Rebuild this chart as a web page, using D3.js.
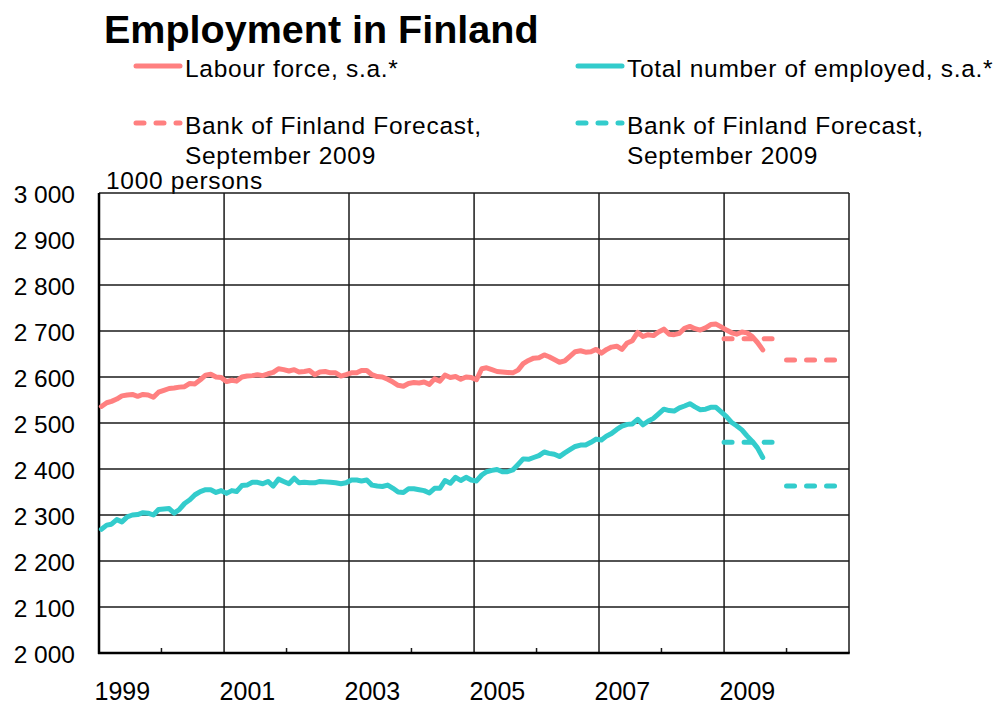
<!DOCTYPE html>
<html>
<head>
<meta charset="utf-8">
<script src="https://cdn.jsdelivr.net/npm/d3@7"></script>
<style>
  html, body { margin: 0; padding: 0; background: #fff; }
  svg { display: block; font-family: "Liberation Sans", Arial, sans-serif; }
</style>
</head>
<body>
<svg id="chart" width="996" height="706"></svg>
<script>
// Monthly series, January 1999 – August 2009 (1000 persons, seasonally adjusted)
const startYear = 1999;
const labourForce = [
  2536, 2544, 2547, 2552, 2559, 2561, 2562, 2558, 2562, 2561, 2556, 2567,
  2571, 2575, 2576, 2578, 2579, 2586, 2585, 2594, 2604, 2606, 2600, 2599,
  2590, 2593, 2591, 2600, 2602, 2603, 2605, 2603, 2607, 2610, 2618, 2616,
  2613, 2616, 2611, 2612, 2614, 2605, 2611, 2612, 2609, 2609, 2602, 2605,
  2609, 2609, 2614, 2614, 2605, 2601, 2600, 2595, 2589, 2582, 2580, 2586,
  2588, 2587, 2589, 2584, 2596, 2591, 2604, 2599, 2601, 2595, 2600, 2599,
  2594, 2618, 2620, 2616, 2612, 2611, 2610, 2609, 2615, 2629, 2636, 2641,
  2642, 2648, 2644, 2638, 2632, 2635, 2645, 2655, 2657, 2654, 2655, 2660,
  2652, 2660, 2665, 2667, 2660, 2674, 2679, 2697, 2688, 2692, 2690, 2698,
  2704, 2693, 2692, 2695, 2706, 2710, 2705, 2702, 2707, 2714, 2715, 2709,
  2702, 2696, 2693, 2698, 2696, 2688, 2675, 2659
];
const employed = [
  2269, 2278, 2280, 2290, 2285, 2296, 2300, 2301, 2305, 2304, 2300, 2312,
  2313, 2314, 2304, 2312, 2325, 2333, 2344, 2351, 2355, 2355, 2349, 2353,
  2347, 2353, 2351, 2364, 2365, 2371, 2371, 2368, 2373, 2363, 2378, 2373,
  2368, 2380, 2370, 2371, 2370, 2370, 2373, 2372, 2371, 2370, 2368, 2370,
  2376, 2376, 2374, 2376, 2365, 2363, 2362, 2365, 2358, 2350, 2349, 2357,
  2357, 2355, 2353, 2348, 2358, 2358, 2375, 2369, 2382, 2375, 2382, 2376,
  2374, 2387, 2394, 2397, 2399, 2394, 2394, 2398, 2410, 2422, 2421, 2425,
  2429, 2437, 2434, 2432, 2427, 2435, 2442, 2449, 2452, 2452, 2458, 2465,
  2463, 2472, 2477, 2486, 2493, 2497, 2498, 2508, 2496, 2504, 2510, 2520,
  2530, 2527, 2526, 2533, 2537, 2542, 2535, 2529, 2530, 2534, 2534, 2524,
  2514, 2501, 2494, 2485, 2472, 2460, 2446, 2425
];

// Bank of Finland forecast, September 2009 (annual levels)
const forecastYears = [2009, 2010];
const labourForecast = [2683, 2637];
const employedForecast = [2458, 2363];

// Axis ticks
const yTicks = [2000, 2100, 2200, 2300, 2400, 2500, 2600, 2700, 2800, 2900, 3000];
const yearLabels = [1999, 2001, 2003, 2005, 2007, 2009];
const gridYears = [2001, 2003, 2005, 2007, 2009, 2011];
const minorYears = [2000, 2002, 2004, 2006, 2008, 2010];

const legendItems = [
  { label: ["Labour force, s.a.*"], color: "#FF8080", dashed: false, col: 0, row: 0 },
  { label: ["Total number of employed, s.a.*"], color: "#33CCCC", dashed: false, col: 1, row: 0 },
  { label: ["Bank of Finland Forecast,", "September 2009"], color: "#FF8080", dashed: true, col: 0, row: 1 },
  { label: ["Bank of Finland Forecast,", "September 2009"], color: "#33CCCC", dashed: true, col: 1, row: 1 }
];

const pink = "#FF8080";
const teal = "#33CCCC";
const lineWidth = 5;

const svg = d3.select("#chart");
const plot = { left: 99, right: 849, top: 193, bottom: 653 };

const x = d3.scaleTime()
  .domain([new Date(startYear, 0, 1), new Date(2011, 0, 1)])
  .range([plot.left, plot.right]);
const y = d3.scaleLinear()
  .domain([2000, 3000])
  .range([plot.bottom, plot.top]);

const monthDate = i => new Date(startYear + Math.floor(i / 12), i % 12, 15);

// Title
svg.append("text")
  .attr("x", 104).attr("y", 43)
  .attr("font-size", 39.5).attr("font-weight", "bold")
  .attr("fill", "#000")
  .text("Employment in Finland");

// Legend
const legendCols = [136, 578];
const legendRows = [66, 123];
legendItems.forEach(item => {
  const lx = legendCols[item.col];
  const ly = legendRows[item.row];
  svg.append("line")
    .attr("x1", lx).attr("x2", lx + 44)
    .attr("y1", ly).attr("y2", ly)
    .attr("stroke", item.color).attr("stroke-width", lineWidth)
    .attr("stroke-linecap", "round")
    .attr("stroke-dasharray", item.dashed ? "8,12" : null);
  item.label.forEach((line, k) => {
    svg.append("text")
      .attr("x", lx + 49).attr("y", ly + 11 + k * 30)
      .attr("font-size", 24.5).attr("letter-spacing", 0.7).attr("fill", "#000")
      .text(line);
  });
});

// Unit label
svg.append("text")
  .attr("x", 106).attr("y", 189)
  .attr("font-size", 24.5).attr("letter-spacing", 0.7).attr("fill", "#000")
  .text("1000 persons");

// Horizontal gridlines
svg.append("g")
  .selectAll("line")
  .data(yTicks.filter(v => v > 2000))
  .join("line")
  .attr("x1", plot.left).attr("x2", plot.right)
  .attr("y1", d => y(d)).attr("y2", d => y(d))
  .attr("stroke", "#1a1a1a").attr("stroke-width", 1.5);

// Vertical gridlines (odd years) and right border
svg.append("g")
  .selectAll("line")
  .data(gridYears)
  .join("line")
  .attr("x1", d => x(new Date(d, 0, 1))).attr("x2", d => x(new Date(d, 0, 1)))
  .attr("y1", plot.top).attr("y2", plot.bottom)
  .attr("stroke", "#1a1a1a").attr("stroke-width", 1.5);

// Minor tick marks on the time axis (even years)
svg.append("g")
  .selectAll("line")
  .data(minorYears)
  .join("line")
  .attr("x1", d => x(new Date(d, 0, 1))).attr("x2", d => x(new Date(d, 0, 1)))
  .attr("y1", plot.bottom - 5).attr("y2", plot.bottom)
  .attr("stroke", "#1a1a1a").attr("stroke-width", 1.5);

// Y axis labels
const yAxis = d3.axisLeft(y)
  .tickValues(yTicks)
  .tickSize(0)
  .tickPadding(24)
  .tickFormat(d => d3.format(",")(d).replace(",", " "));
const yAxisG = svg.append("g")
  .attr("transform", `translate(${plot.left},0)`)
  .call(yAxis);
yAxisG.select(".domain").remove();
yAxisG.selectAll("text")
  .attr("font-size", 24.5).attr("fill", "#000")
  .attr("font-family", "Liberation Sans, Arial, sans-serif")
  .attr("dy", "0.38em");

// X axis labels (odd years, starting at the year's gridline)
const xAxis = d3.axisBottom(x)
  .tickValues(yearLabels.map(yr => new Date(yr, 0, 1)))
  .tickSize(0)
  .tickFormat(d3.timeFormat("%Y"));
const xAxisG = svg.append("g")
  .attr("transform", `translate(0,${plot.bottom})`)
  .call(xAxis);
xAxisG.select(".domain").remove();
xAxisG.selectAll("text")
  .attr("font-size", 25).attr("fill", "#000")
  .attr("font-family", "Liberation Sans, Arial, sans-serif")
  .attr("text-anchor", "start")
  .attr("dx", -5)
  .attr("y", 47)
  .attr("dy", 0);

// Axis lines
svg.append("line")
  .attr("x1", plot.left).attr("x2", plot.left)
  .attr("y1", plot.top).attr("y2", plot.bottom + 1)
  .attr("stroke", "#000").attr("stroke-width", 2.5);
svg.append("line")
  .attr("x1", plot.left - 1).attr("x2", plot.right + 0.75)
  .attr("y1", plot.bottom).attr("y2", plot.bottom)
  .attr("stroke", "#000").attr("stroke-width", 2.5);

// Series lines
const line = d3.line()
  .x((d, i) => x(monthDate(i)))
  .y(d => y(d));

svg.append("path")
  .datum(labourForce)
  .attr("d", line)
  .attr("fill", "none").attr("stroke", pink)
  .attr("stroke-width", lineWidth).attr("stroke-linejoin", "round").attr("stroke-linecap", "round");

svg.append("path")
  .datum(employed)
  .attr("d", line)
  .attr("fill", "none").attr("stroke", teal)
  .attr("stroke-width", lineWidth).attr("stroke-linejoin", "round").attr("stroke-linecap", "round");

// Forecast segments (January – November of each forecast year)
function drawForecast(values, color) {
  svg.append("g")
    .selectAll("line")
    .data(forecastYears.map((yr, k) => ({ yr, v: values[k] })))
    .join("line")
    .attr("x1", d => x(new Date(d.yr, 0, 1)))
    .attr("x2", d => x(new Date(d.yr, 10, 1)))
    .attr("y1", d => y(d.v)).attr("y2", d => y(d.v))
    .attr("stroke", color).attr("stroke-width", lineWidth)
    .attr("stroke-linecap", "round")
    .attr("stroke-dasharray", "8,12");
}
drawForecast(labourForecast, pink);
drawForecast(employedForecast, teal);
</script>
</body>
</html>
